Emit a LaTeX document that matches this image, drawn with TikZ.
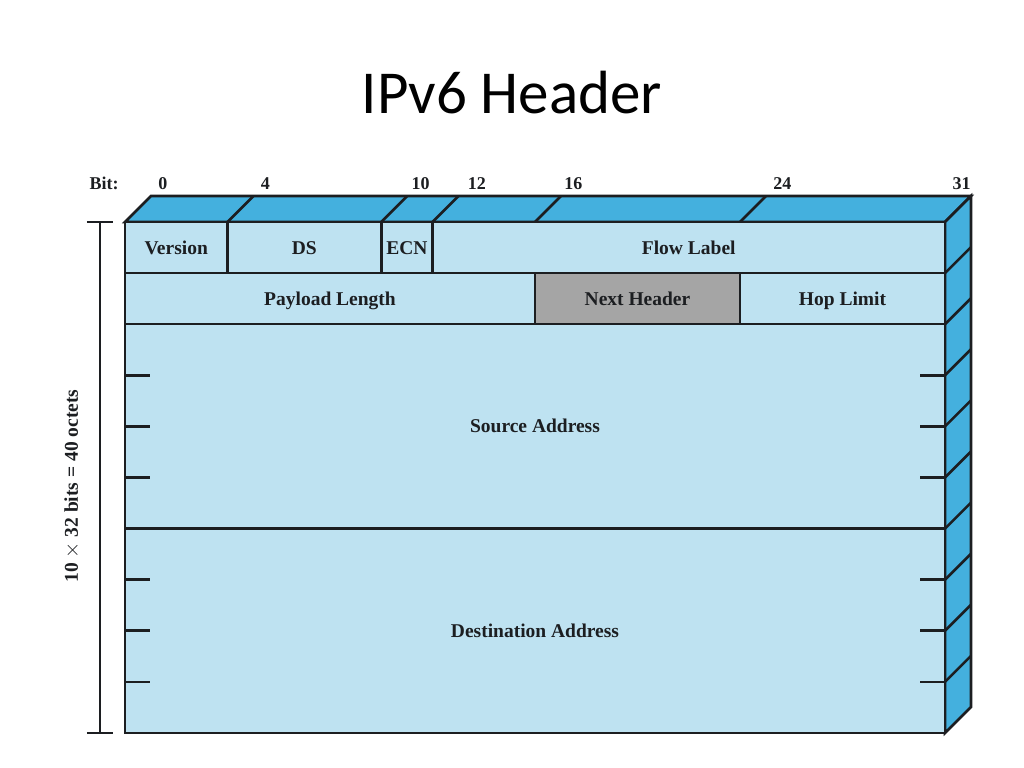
\documentclass[tikz,border=0pt]{standalone}
\usepackage{fontspec}
\setmainfont{Liberation Serif}
\newfontfamily\titlefont{Carlito}
\usepackage{tikz}

\definecolor{frontblue}{RGB}{190,226,241}
\definecolor{topblue}{RGB}{68,176,222}
\definecolor{nextgray}{RGB}{165,165,165}
\definecolor{edge}{RGB}{28,30,33}

\begin{document}
\begin{tikzpicture}[x=25.625pt, y=-51.1pt, line width=2.6pt,
  field/.style={fill=frontblue, draw=edge},
  fieldtext/.style={font=\fontsize{19.5}{22}\selectfont\bfseries, text=edge, text height=13pt, text depth=0pt},
  bittext/.style={font=\fontsize{18}{20}\selectfont\bfseries, text=edge, inner sep=0pt}]
\useasboundingbox (-4.878,-4.344) rectangle (35.083,10.685);

\node[anchor=base, font=\titlefont\fontsize{61}{70}\selectfont] (title) at (15.1,-2.114) {IPv6 Header};

% top and side faces
\draw[edge, fill=topblue] (0,0) -- ++(26pt,26pt) -- ++(32,0) -- (32,0) -- cycle;
\draw[edge, fill=topblue] (32,0) -- ++(26pt,26pt) -- ++(0,10) -- (32,10) -- cycle;

% first row
\draw[field] (0,0) rectangle (4,1) node[midway, fieldtext] (version) {Version};
\draw[field] (4,0) rectangle (10,1) node[midway, fieldtext] (ds) {DS};
\draw[field] (10,0) rectangle (12,1) node[midway, fieldtext] (ecn) {ECN};
\draw[field] (12,0) rectangle (32,1) node[midway, fieldtext] (flow) {Flow Label};

% second row
\draw[field] (0,1) rectangle (16,2) node[midway, fieldtext] (payload) {Payload Length};
\draw[field, fill=nextgray] (16,1) rectangle (24,2) node[midway, fieldtext] (next) {Next Header};
\draw[field] (24,1) rectangle (32,2) node[midway, fieldtext] (hop) {Hop Limit};

% addresses
\draw[field] (0,2) rectangle (32,6) node[midway, fieldtext] (src) {Source Address};
\draw[field] (0,6) rectangle (32,10) node[midway, fieldtext] (dst) {Destination Address};

% word ticks
\draw[edge] (0,3) -- ++(25pt,0);
\draw[edge] (0,4) -- ++(25pt,0);
\draw[edge] (0,5) -- ++(25pt,0);
\draw[edge] (0,7) -- ++(25pt,0);
\draw[edge] (0,8) -- ++(25pt,0);
\draw[edge] (0,9) -- ++(25pt,0);
\draw[edge] (32,3) -- ++(-25pt,0);
\draw[edge] (32,4) -- ++(-25pt,0);
\draw[edge] (32,5) -- ++(-25pt,0);
\draw[edge] (32,7) -- ++(-25pt,0);
\draw[edge] (32,8) -- ++(-25pt,0);
\draw[edge] (32,9) -- ++(-25pt,0);

% top face edges
\draw[edge] (4,0) -- ++(26pt,26pt);
\draw[edge] (10,0) -- ++(26pt,26pt);
\draw[edge] (12,0) -- ++(26pt,26pt);
\draw[edge] (16,0) -- ++(26pt,26pt);
\draw[edge] (24,0) -- ++(26pt,26pt);

% side face edges
\draw[edge] (32,1) -- ++(26pt,26pt);
\draw[edge] (32,2) -- ++(26pt,26pt);
\draw[edge] (32,3) -- ++(26pt,26pt);
\draw[edge] (32,4) -- ++(26pt,26pt);
\draw[edge] (32,5) -- ++(26pt,26pt);
\draw[edge] (32,6) -- ++(26pt,26pt);
\draw[edge] (32,7) -- ++(26pt,26pt);
\draw[edge] (32,8) -- ++(26pt,26pt);
\draw[edge] (32,9) -- ++(26pt,26pt);

% bit numbers
\node[bittext, anchor=base east] (bit) at (-0.195,-0.626) {Bit:};
\node[bittext, anchor=base west] (b0) at ([shift={(32pt,0pt)}]0,-0.626) {0};
\node[bittext, anchor=base west] (b4) at ([shift={(32pt,0pt)}]4,-0.626) {4};
\node[bittext, anchor=base west] (b10) at ([shift={(29pt,0pt)}]10,-0.626) {10};
\node[bittext, anchor=base west] (b12) at ([shift={(34pt,0pt)}]12,-0.626) {12};
\node[bittext, anchor=base west] (b16) at ([shift={(28pt,0pt)}]16,-0.626) {16};
\node[bittext, anchor=base west] (b24) at ([shift={(32pt,0pt)}]24,-0.626) {24};
\node[bittext, anchor=base east] (b31) at ([shift={(27pt,0pt)}]32,-0.626) {31};

% size of the header
\draw[edge, line width=1.8pt] (-0.976,0) -- (-0.976,10);
\draw[edge, line width=1.8pt] (-1.483,0) -- (-0.469,0);
\draw[edge, line width=1.8pt] (-1.483,10) -- (-0.469,10);
\node[bittext, font=\fontsize{19.5}{22}\selectfont\bfseries, rotate=90] (size) at (-2.068,5.17) {10 $\times$ 32 bits = 40 octets};

\end{tikzpicture}
\end{document}
